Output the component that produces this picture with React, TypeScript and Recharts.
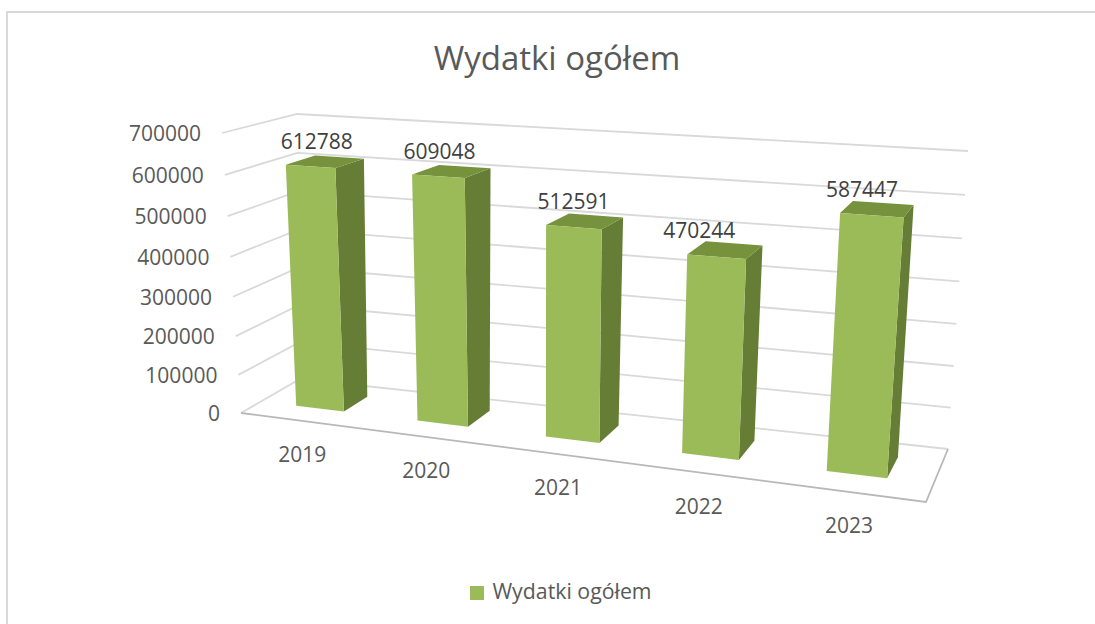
import React from "react";
import { BarChart, Bar, XAxis, YAxis, CartesianGrid, Legend, LabelList } from "recharts";

const categories = ["2019", "2020", "2021", "2022", "2023"];
const expenses = [612788, 609048, 512591, 470244, 587447];
const yTicks = [0, 100000, 200000, 300000, 400000, 500000, 600000, 700000];
const seriesName = "Wydatki ogółem";
const rows = categories.map((year, i) => ({ year, [seriesName]: expenses[i] }));

const FONT = "'Open Sans', sans-serif";
const TEXT = "#595959";
const PLOT = { left: 100, top: 100, W: 800, H: 400 };
const YMAX = 700000;

type P = [number, number];
// maps unit square (u right, v up) into a quad: bl, br, tr, tl
function quadMap(bl: P, br: P, tr: P, tl: P) {
  const [x0, y0] = bl, [x1, y1] = br, [x2, y2] = tr, [x3, y3] = tl;
  const dx1 = x1 - x2, dx2 = x3 - x2, dx3 = x0 - x1 + x2 - x3;
  const dy1 = y1 - y2, dy2 = y3 - y2, dy3 = y0 - y1 + y2 - y3;
  const den = dx1 * dy2 - dx2 * dy1;
  const g = (dx3 * dy2 - dx2 * dy3) / den;
  const h = (dx1 * dy3 - dx3 * dy1) / den;
  const a = x1 - x0 + g * x1, b = x3 - x0 + h * x3;
  const d = y1 - y0 + g * y1, e = y3 - y0 + h * y3;
  return (u: number, v: number): P => {
    const q = g * u + h * v + 1;
    return [(a * u + b * v + x0) / q, (d * u + e * v + y0) / q];
  };
}
const frontPlane = quadMap([241, 413], [926, 502], [950, 176], [222, 133]);
const backPlane = quadMap([300, 379], [948, 449], [968, 151], [297, 114]);
function project(u: number, v: number, w: number): P {
  const f = frontPlane(u, v), b = backPlane(u, v);
  return [f[0] + (b[0] - f[0]) * w, f[1] + (b[1] - f[1]) * w];
}
const pts = (list: P[]) => list.map((p) => `${p[0].toFixed(1)},${p[1].toFixed(1)}`).join(" ");
const toU = (px: number) => (px - PLOT.left) / PLOT.W;
const toV = (py: number) => (PLOT.top + PLOT.H - py) / PLOT.H;

const W0 = 0.34, W1 = 0.75;
const LABEL_NUDGE_X = [4, 0, 0, -15, -5];

function GridLine3D(props: any) {
  const v = toV(props.y1);
  const isFloor = Math.abs(v) < 1e-6;
  const path = [project(0, v, 0), project(0, v, 1), project(1, v, 1)];
  return (
    <g>
      <polyline points={pts(path)} fill="none" stroke="#d9d9d9" strokeWidth={1.8} />
      {isFloor && (
        <polyline
          points={pts([project(0, 0, 0), project(1, 0, 0), project(1, 0, 1)])}
          fill="none"
          stroke="#b8b8b8"
          strokeWidth={1.8}
        />
      )}
    </g>
  );
}

function Bar3D(props: any) {
  const { x, y, width, height } = props;
  const u0 = toU(x), u1 = toU(x + width);
  const vT = toV(y), vB = toV(y + height);
  const front = [project(u0, vB, W0), project(u1, vB, W0), project(u1, vT, W0), project(u0, vT, W0)];
  const side = [project(u1, vB, W0), project(u1, vB, W1), project(u1, vT, W1), project(u1, vT, W0)];
  const top = [project(u0, vT, W0), project(u1, vT, W0), project(u1, vT, W1), project(u0, vT, W1)];
  return (
    <g>
      <polygon points={pts(side)} fill="#667d35" />
      <polygon points={pts(top)} fill="#76923c" />
      <polygon points={pts(front)} fill="#9bbb59" />
    </g>
  );
}

function ValueLabel(props: any) {
  const { x, y, width, value, index } = props;
  const [px, py] = project(toU(x + width / 2), toV(y), 0.5);
  return (
    <text x={px - 9 + (LABEL_NUDGE_X[index] ?? 0)} y={py - 22} textAnchor="middle" dominantBaseline="central" fontFamily={FONT} fontSize={21} fill="#404040">
      {value}
    </text>
  );
}

function YTick(props: any) {
  const v = props.payload.value / YMAX;
  const [px, py] = project(0, v, 0);
  return (
    <text x={px - 21} y={py} textAnchor="end" dominantBaseline="central" fontFamily={FONT} fontSize={21} fill={TEXT}>
      {props.payload.value}
    </text>
  );
}

function XTick(props: any) {
  const [px, py] = project(toU(props.x), 0, 0);
  return (
    <text x={px + 2} y={py + 33.5} textAnchor="middle" dominantBaseline="central" fontFamily={FONT} fontSize={21} fill={TEXT}>
      {props.payload.value}
    </text>
  );
}

export default function App() {
  return (
    <div style={{ position: "absolute", left: 0, top: 0, width: 1095, height: 624, overflow: "hidden", background: "#fff" }}>
      <div style={{ position: "absolute", left: 6, top: 11, width: 1089, height: 613, borderTop: "2px solid #d9d9d9", borderLeft: "2px solid #d9d9d9", boxSizing: "border-box" }} />
      <div style={{ position: "absolute", left: 0, top: 0 }}>
        <BarChart
          width={1095}
          height={624}
          data={rows}
          barCategoryGap="30%"
          margin={{ left: 40, top: PLOT.top, right: 1095 - PLOT.left - PLOT.W, bottom: 94 }}
        >
          <text x={557} y={57} textAnchor="middle" dominantBaseline="central" fontFamily={FONT} fontSize={33} fill={TEXT}>
            {seriesName}
          </text>
          <CartesianGrid vertical={false} horizontal={(p: any) => <GridLine3D key={p.key ?? p.y1} {...p} />} />
          <XAxis dataKey="year" height={30} axisLine={false} tickLine={false} interval={0} tick={(p: any) => <XTick {...p} />} />
          <YAxis width={60} domain={[0, YMAX]} ticks={yTicks} interval={0} axisLine={false} tickLine={false} tick={(p: any) => <YTick {...p} />} />
          <Legend
            layout="horizontal"
            verticalAlign="middle"
            align="center"
            iconType="square"
            iconSize={14}
            wrapperStyle={{ position: "absolute", left: 456, top: 576, width: 220, height: 30, fontFamily: FONT, fontSize: 21.3 }}
            formatter={(value: string) => <span style={{ color: TEXT, marginLeft: 4 }}>{value}</span>}
          />
          <Bar dataKey={seriesName} fill="#9bbb59" isAnimationActive={false} shape={(p: any) => <Bar3D {...p} />}>
            <LabelList dataKey={seriesName} content={(p: any) => <ValueLabel {...p} />} />
          </Bar>
        </BarChart>
      </div>
    </div>
  );
}
